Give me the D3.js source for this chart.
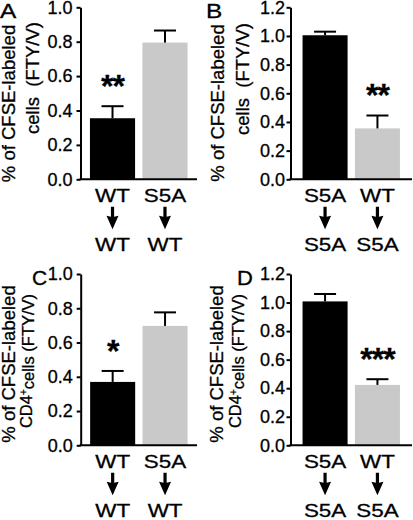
<!DOCTYPE html>
<html><head><meta charset="utf-8">
<script src="https://cdn.jsdelivr.net/npm/d3@7"></script>
<style>
body{margin:0;background:#fff}
text{font-family:"Liberation Sans",Arial,Helvetica,sans-serif;fill:#000;stroke:#000;stroke-width:0.3px}
</style>
</head><body>
<svg id="chart" width="413" height="520"></svg>
<script>
// ---- data ----
const panelLetters = ["A", "B", "C", "D"];
const donorLabels = [["WT", "S5A"], ["S5A", "WT"], ["WT", "S5A"], ["S5A", "WT"]];
const recipientLabels = [["WT", "WT"], ["S5A", "S5A"], ["WT", "WT"], ["S5A", "S5A"]];
const meansA = [0.355, 0.795];
const semA = [0.07, 0.07];
const meansB = [1.005, 0.355];
const semB = [0.025, 0.09];
const meansC = [0.37, 0.697];
const semC = [0.064, 0.079];
const meansD = [1.008, 0.423];
const semD = [0.052, 0.04];
const sigA = ["**", ""];
const sigB = ["", "**"];
const sigC = ["*", ""];
const sigD = ["", "***"];
const ticks10 = [0, 0.2, 0.4, 0.6, 0.8, 1.0];
const ticks12 = [0, 0.2, 0.4, 0.6, 0.8, 1.0, 1.2];
const yLabelLine1 = "% of CFSE-labeled";
const yLabelLine2Top = "cells\u00a0\u00a0(FTY/V)";
const yLabelLine2Bottom = ["CD4", "+", "cells (FTY/V)"];
const barColors = ["#000000", "#c9c9c9"];

// ---- layout ----
const panels = [
  {letter: panelLetters[0], donors: donorLabels[0], recips: recipientLabels[0], means: meansA, sem: semA, sig: sigA, ticks: ticks10, max: 1.0,
   ax: 80.5, xEnd: 197, yTop: 7.3, yBot: 179.3, po: 0.18, tp: 4,
   lx: 0, ly: 18.3, ls: 1.22, l1x: 14.5, l1y: 103.5, l2x: 38.5, l2y: 78, cd4: false},
  {letter: panelLetters[1], donors: donorLabels[1], recips: recipientLabels[1], means: meansB, sem: semB, sig: sigB, ticks: ticks12, max: 1.2,
   ax: 290.5, xEnd: 412, yTop: 7.3, yBot: 179.3, po: 0.23, tp: 1.5,
   lx: 206, ly: 18.3, ls: 1.22, l1x: 224, l1y: 103, l2x: 249, l2y: 79, cd4: false},
  {letter: panelLetters[2], donors: donorLabels[2], recips: recipientLabels[2], means: meansC, sem: semC, sig: sigC, ticks: ticks10, max: 1.0,
   ax: 80.7, xEnd: 197, yTop: 274, yBot: 445.3, po: 0.18, tp: 4,
   lx: 32, ly: 285, ls: 1.05, l1x: 14.5, l1y: 364, l2x: 31.5, l2y: 361, cd4: true},
  {letter: panelLetters[3], donors: donorLabels[3], recips: recipientLabels[3], means: meansD, sem: semD, sig: sigD, ticks: ticks12, max: 1.2,
   ax: 290.5, xEnd: 412, yTop: 274, yBot: 445.3, po: 0.23, tp: 1.5,
   lx: 237, ly: 285, ls: 1.1, l1x: 222.5, l1y: 364, l2x: 241, l2y: 361, cd4: true}
];

const svg = d3.select("#chart");

panels.forEach(p => {
  const g = svg.append("g");
  const x = d3.scaleBand().domain([0, 1]).range([p.ax, p.xEnd]).paddingInner(0.14).paddingOuter(p.po);
  const y = d3.scaleLinear().domain([0, p.max]).range([p.yBot, p.yTop]);

  // bars
  g.selectAll("rect.bar").data(p.means).join("rect")
    .attr("class", "bar")
    .attr("x", (d, i) => x(i))
    .attr("width", x.bandwidth())
    .attr("y", d => y(d))
    .attr("height", d => y(0) - y(d))
    .attr("fill", (d, i) => barColors[i]);

  // error bars (upper only)
  const capW = 22;
  p.means.forEach((m, i) => {
    const cx = x(i) + x.bandwidth() / 2;
    g.append("line").attr("x1", cx).attr("x2", cx).attr("y1", y(m)).attr("y2", y(m + p.sem[i]))
      .attr("stroke", "#000").attr("stroke-width", 2);
    g.append("line").attr("x1", cx - capW / 2).attr("x2", cx + capW / 2).attr("y1", y(m + p.sem[i])).attr("y2", y(m + p.sem[i]))
      .attr("stroke", "#000").attr("stroke-width", 2);
    if (p.sig[i]) {
      const fs = 32;
      g.append("text").attr("text-anchor", "middle")
        .attr("x", cx).attr("y", y(m + p.sem[i]) - 28 + 0.585 * fs)
        .style("font-size", fs + "px").style("font-weight", "bold")
        .style("letter-spacing", "-1px").text(p.sig[i]);
    }
  });

  // y axis
  const yAxis = d3.axisLeft(y).tickValues(p.ticks).tickFormat(d3.format(".1f"))
    .tickSize(4).tickSizeOuter(0).tickPadding(p.tp);
  const ag = g.append("g").attr("transform", `translate(${p.ax},0)`).call(yAxis);
  ag.select(".domain").attr("stroke", "#000").attr("stroke-width", 2);
  ag.selectAll(".tick line").attr("stroke", "#000").attr("stroke-width", 2);
  ag.selectAll(".tick text").attr("fill", "#000").style("font-size", "18px")
    .style("font-family", '"Liberation Sans",Arial,sans-serif');

  // x axis line
  g.append("line").attr("x1", p.ax - 1).attr("x2", x.range()[1]).attr("y1", y(0)).attr("y2", y(0))
    .attr("stroke", "#000").attr("stroke-width", 2);

  // category labels: donor, arrow, recipient
  const base1 = y(0) + 22.4;
  const arrowTop = y(0) + 27.5;
  const base3 = y(0) + 71.7;
  [0, 1].forEach(i => {
    const cx = x(i) + x.bandwidth() / 2;
    g.append("text").attr("text-anchor", "middle")
      .attr("transform", `translate(${cx},${base1}) scale(1.18,1)`)
      .style("font-size", "19px").text(p.donors[i]);
    g.append("text").attr("text-anchor", "middle")
      .attr("transform", `translate(${cx},${base3}) scale(1.18,1)`)
      .style("font-size", "19px").text(p.recips[i]);
    const path = d3.path();
    path.moveTo(cx - 1.6, arrowTop);
    path.lineTo(cx + 1.6, arrowTop);
    path.lineTo(cx + 1.6, arrowTop + 10);
    path.lineTo(cx + 6, arrowTop + 9);
    path.lineTo(cx, arrowTop + 22.5);
    path.lineTo(cx - 6, arrowTop + 9);
    path.lineTo(cx - 1.6, arrowTop + 10);
    path.closePath();
    g.append("path").attr("d", path.toString()).attr("fill", "#000");
  });

  // panel letter
  g.append("text").attr("transform", `translate(${p.lx},${p.ly}) scale(${p.ls},1)`)
    .style("font-size", "20px").text(p.letter);

  // y label
  g.append("text").attr("text-anchor", "middle")
    .attr("transform", `translate(${p.l1x},${p.l1y}) rotate(-90)`)
    .style("font-size", "18.5px").text(yLabelLine1);
  const t2 = g.append("text").attr("text-anchor", "middle")
    .attr("transform", `translate(${p.l2x},${p.l2y}) rotate(-90)`);
  if (p.cd4) {
    t2.style("font-size", "16.5px");
    t2.append("tspan").text(yLabelLine2Bottom[0]);
    t2.append("tspan").attr("dy", "-0.45em").style("font-size", "10px").text(yLabelLine2Bottom[1]);
    t2.append("tspan").attr("dy", "0.45em").text(yLabelLine2Bottom[2]);
  } else {
    t2.style("font-size", "18.5px").text(yLabelLine2Top);
  }
});
</script>
</body></html>
